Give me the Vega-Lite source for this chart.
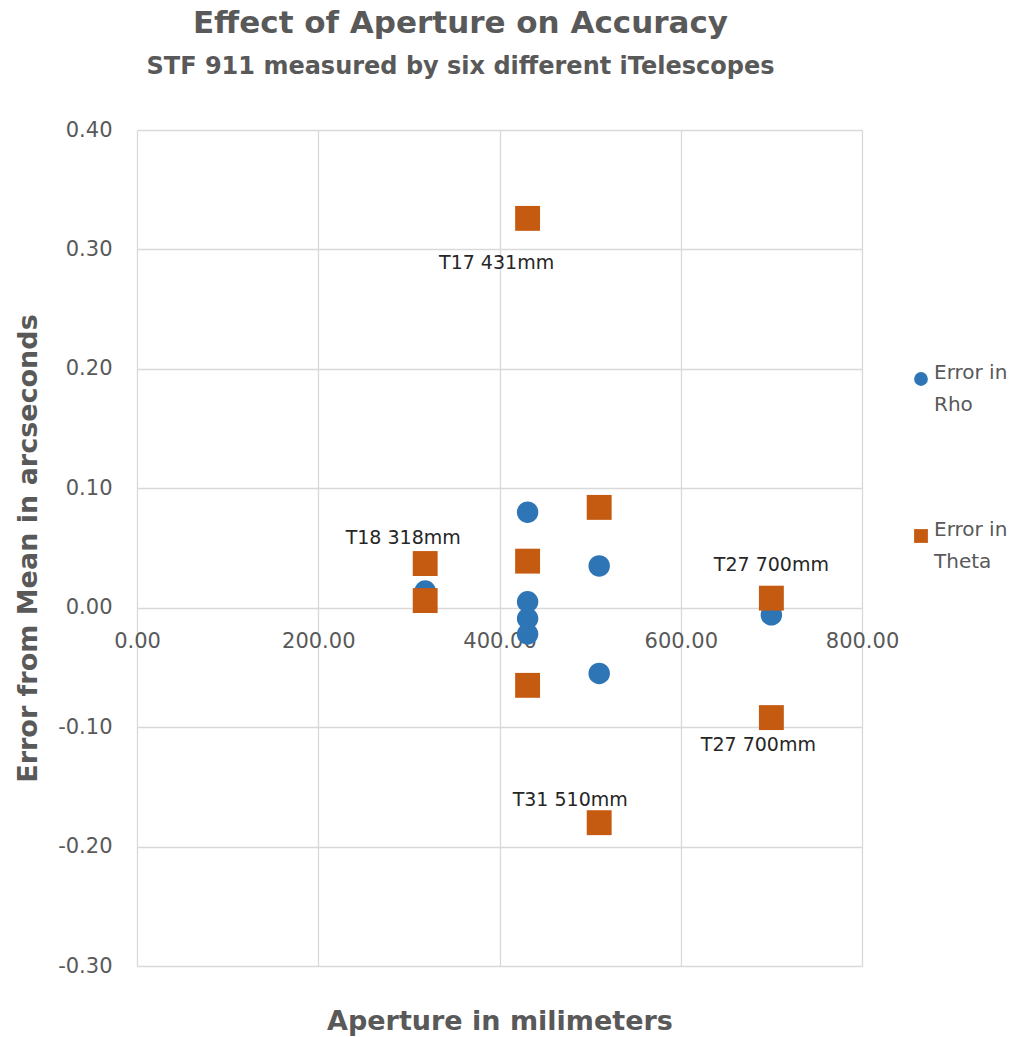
{
  "$schema": "https://vega.github.io/schema/vega-lite/v6.json",
  "autosize": "none",
  "width": 725,
  "height": 836,
  "padding": {"left": 137, "top": 130, "right": 159, "bottom": 71},
  "background": "white",
  "config": {
    "font": "DejaVu Sans",
    "view": {"stroke": null},
    "style": {"guide-label": {"lineHeight": 32}},
    "axis": {"gridColor": "#d9d9d9", "gridWidth": 1.3, "domain": false, "ticks": false, "labelColor": "#595959", "labelFontSize": 21, "titleColor": "#595959", "titleFontSize": 27, "titleFontWeight": "bold"}
  },
  "title": {
    "text": "Effect of Aperture on Accuracy",
    "subtitle": "STF 911 measured by six different iTelescopes",
    "anchor": "middle",
    "dx": -39,
    "fontSize": 31,
    "fontWeight": "bold",
    "color": "#595959",
    "subtitleFontSize": 24,
    "subtitleFontWeight": "bold",
    "subtitleColor": "#595959",
    "subtitlePadding": 15,
    "offset": 39
  },
  "data": {
    "values": [
      {"aperture": 318, "error": 0.014, "series": "Error in Rho"},
      {"aperture": 431, "error": 0.080, "series": "Error in Rho"},
      {"aperture": 431, "error": 0.005, "series": "Error in Rho"},
      {"aperture": 431, "error": -0.009, "series": "Error in Rho"},
      {"aperture": 431, "error": -0.022, "series": "Error in Rho"},
      {"aperture": 510, "error": 0.035, "series": "Error in Rho"},
      {"aperture": 510, "error": -0.055, "series": "Error in Rho"},
      {"aperture": 700, "error": -0.006, "series": "Error in Rho"},
      {"aperture": 318, "error": 0.037, "series": "Error in Theta", "label": "T18 318mm"},
      {"aperture": 318, "error": 0.006, "series": "Error in Theta"},
      {"aperture": 431, "error": 0.326, "series": "Error in Theta", "label": "T17 431mm"},
      {"aperture": 431, "error": 0.039, "series": "Error in Theta"},
      {"aperture": 431, "error": -0.065, "series": "Error in Theta"},
      {"aperture": 510, "error": 0.084, "series": "Error in Theta"},
      {"aperture": 510, "error": -0.180, "series": "Error in Theta", "label": "T31 510mm"},
      {"aperture": 700, "error": 0.008, "series": "Error in Theta", "label": "T27 700mm"},
      {"aperture": 700, "error": -0.092, "series": "Error in Theta", "label": "T27 700mm"}
    ]
  },
  "encoding": {
    "x": {
      "field": "aperture", "type": "quantitative",
      "scale": {"domain": [0, 800], "nice": false, "zero": false},
      "axis": {"values": [0, 200, 400, 600, 800], "format": ".2f", "labelFlush": false, "title": "Aperture in milimeters", "labelPadding": -336, "labelBaseline": "top", "titleY": 55, "titleBaseline": "middle"}
    },
    "y": {
      "field": "error", "type": "quantitative",
      "scale": {"domain": [-0.3, 0.4], "nice": false, "zero": false},
      "axis": {"values": [-0.3, -0.2, -0.1, 0, 0.1, 0.2, 0.3, 0.4], "labelExpr": "replace(format(datum.value, '.2f'), '\u2212', '-')", "title": "Error from Mean in arcseconds", "labelPadding": 25, "titlePadding": 15}
    },
    "color": {"field": "series", "type": "nominal", "scale": {"domain": ["Error in Rho", "Error in Theta"], "range": ["#2E75B6", "#C55A11"]},
      "legend": {"orient": "none", "legendX": 774, "legendY": 239, "title": null, "padding": 0, "symbolSize": 190, "labelFontSize": 20, "labelColor": "#595959", "labelBaseline": "alphabetic", "labelOffset": 3, "rowPadding": 105,
        "labelExpr": "datum.label == 'Error in Rho' ? ['Error in', 'Rho'] : ['Error in', 'Theta']"}},
    "shape": {"field": "series", "type": "nominal", "scale": {"domain": ["Error in Rho", "Error in Theta"], "range": ["circle", "square"]}}
  },
  "layer": [
    {
      "transform": [{"filter": "datum.series == 'Error in Rho'"}],
      "mark": {"type": "point", "filled": true, "opacity": 1, "size": 460}
    },
    {
      "transform": [{"filter": "datum.series == 'Error in Theta'"}],
      "mark": {"type": "point", "filled": true, "opacity": 1, "size": 620}
    },
    {
      "transform": [{"filter": "datum.label == 'T17 431mm'"}],
      "mark": {"type": "text", "fontSize": 19, "color": "#262626", "dx": -31, "dy": 45},
      "encoding": {"text": {"field": "label"}, "color": {"value": "#262626"}, "shape": null}
    },
    {
      "transform": [{"filter": "datum.label == 'T18 318mm'"}],
      "mark": {"type": "text", "fontSize": 19, "color": "#262626", "dx": -22, "dy": -26},
      "encoding": {"text": {"field": "label"}, "color": {"value": "#262626"}, "shape": null}
    },
    {
      "transform": [{"filter": "datum.label == 'T27 700mm' && datum.error > 0"}],
      "mark": {"type": "text", "fontSize": 19, "color": "#262626", "dx": 0, "dy": -33},
      "encoding": {"text": {"field": "label"}, "color": {"value": "#262626"}, "shape": null}
    },
    {
      "transform": [{"filter": "datum.label == 'T27 700mm' && datum.error < 0"}],
      "mark": {"type": "text", "fontSize": 19, "color": "#262626", "dx": -13, "dy": 27},
      "encoding": {"text": {"field": "label"}, "color": {"value": "#262626"}, "shape": null}
    },
    {
      "transform": [{"filter": "datum.label == 'T31 510mm'"}],
      "mark": {"type": "text", "fontSize": 19, "color": "#262626", "dx": -29, "dy": -23},
      "encoding": {"text": {"field": "label"}, "color": {"value": "#262626"}, "shape": null}
    }
  ]
}
